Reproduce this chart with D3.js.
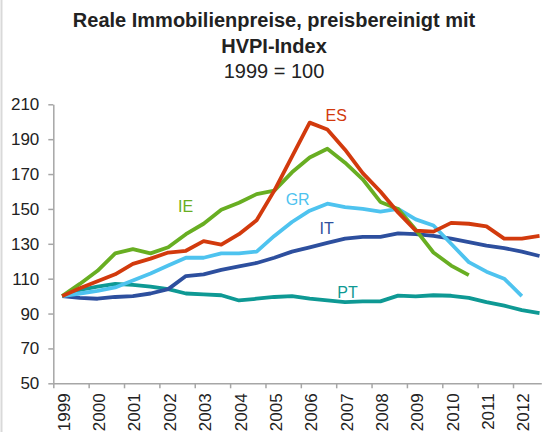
<!DOCTYPE html>
<meta charset="utf-8">
<html>
<head>
    <style>
        body {
            margin: 0;
            background-color: #fff;
        }

        text {
            font-family: "Liberation Sans", Arial, sans-serif;
        }

        .axis path, .axis line {
            stroke: #a6a6a6;
            stroke-width: 1.5px;
        }

        .axis text {
            font-size: 17px;
            fill: #222;
        }

        path.series {
            fill: none;
            stroke-width: 3.8px;
            stroke-linejoin: round;
        }

        text.series-label {
            font-size: 16px;
            text-anchor: middle;
        }
    </style>
    <title>Reale Immobilienpreise</title>
    <script type="text/javascript" src="https://cdn.jsdelivr.net/npm/d3@7"></script>
</head>
<body>
<div id="chart"></div>
<script type="text/javascript">
    const width = 545,
        height = 432,
        years = d3.range(1999, 2013),
        periods = d3.range(1999.25, 2013, 0.5), // half-year midpoints
        yTicks = [50, 70, 90, 110, 130, 150, 170, 190, 210];

    const titleLines = ["Reale Immobilienpreise, preisbereinigt mit", "HVPI-Index", "1999 = 100"];

    // values per half year, 1999 H1 = first entry
    const ES = [100, 104.5, 108.5, 112.5, 118.5, 121.5, 125, 126, 131.5, 129.5, 135.5, 143.5, 160.5, 180,
        199.5, 195.5, 184, 170.5, 160, 148, 137.5, 137, 142, 141.5, 140, 133, 133, 134.5];
    const IE = [100, 107, 114.5, 124.5, 127, 124.5, 128, 135.5, 141.5, 149.5, 153.5, 158.5, 160.5, 171,
        179.5, 184.5, 176.5, 167, 154, 150, 138, 125, 117.5, 112];
    const GR = [100, 101.5, 103, 105, 109, 113, 117.5, 122, 122, 124.5, 124.5, 125.5, 134.5, 142.5,
        149, 153, 151, 150, 148.5, 150, 144, 140.5, 130, 119.5, 114, 110, 100];
    const IT = [100, 99, 98.5, 99.5, 100, 101.5, 104, 111.5, 112.5, 115, 117, 119, 122, 125.5,
        128, 130.5, 133, 134, 134, 136, 135.5, 134.5, 133, 131, 129, 127.5, 125.5, 123];
    const PT = [100, 103.5, 105.5, 107, 106.5, 105.5, 104, 101.5, 101, 100.5, 97.5, 98.5, 99.5, 100,
        98.5, 97.5, 96.5, 97, 97, 100.3, 99.8, 100.5, 100.2, 99, 96.5, 94.5, 92, 90.3];

    const seriesNames = ["PT", "IT", "GR", "IE", "ES"],
        seriesValues = [PT, IT, GR, IE, ES],
        seriesColors = ["#0e9994", "#2d4f9e", "#4ec3ef", "#68ae22", "#d23a0d"],
        labelYears = [2007.32, 2006.73, 2005.91, 2002.74, 2007.0],
        labelValues = [98.9, 135.7, 152.3, 148.2, 200.4];

    const svg = d3.select("#chart").append("svg")
        .attr("width", width)
        .attr("height", height);

    // thin frame line on the left edge
    svg.append("line")
        .attr("x1", 1.5).attr("x2", 1.5)
        .attr("y1", 0).attr("y2", height)
        .attr("stroke", "#d9d9d9")
        .attr("stroke-width", 2);

    svg.selectAll(".title")
        .data(titleLines)
        .enter().append("text")
        .attr("class", "title")
        .attr("x", 274)
        .attr("y", (d, i) => 27 + i * 25.5)
        .style("text-anchor", "middle")
        .style("font-size", "20px")
        .style("font-weight", (d, i) => i < 2 ? "bold" : "normal")
        .style("fill", "#222")
        .text((d) => d);

    const x = d3.scaleLinear()
        .domain([1999, 2012.8])
        .range([53.3, 541.3]);

    const y = d3.scaleLinear()
        .domain([50, 210])
        .range([383.3, 104.3]);

    const xAxis = svg.append("g")
        .attr("class", "axis")
        .attr("transform", "translate(0," + y(50) + ")")
        .call(d3.axisBottom(x).tickValues(years).tickSize(5).tickSizeOuter(0).tickFormat((d) => d));

    xAxis.selectAll("text")
        .attr("transform", "rotate(-90)")
        .attr("x", -10)
        .attr("y", 10)
        .attr("dy", "0.35em")
        .style("text-anchor", "end");

    svg.append("g")
        .attr("class", "axis")
        .attr("transform", "translate(" + x(1999) + ",0)")
        .call(d3.axisLeft(y).tickValues(yTicks).tickSize(5).tickSizeOuter(0).tickPadding(9));

    const line = d3.line()
        .x((d, i) => x(periods[i]))
        .y((d) => y(d));

    svg.selectAll(".series")
        .data(seriesValues)
        .enter().append("path")
        .attr("class", "series")
        .attr("stroke", (d, i) => seriesColors[i])
        .attr("d", line);

    svg.selectAll(".series-label")
        .data(seriesNames)
        .enter().append("text")
        .attr("class", "series-label")
        .attr("x", (d, i) => x(labelYears[i]))
        .attr("y", (d, i) => y(labelValues[i]))
        .style("fill", (d, i) => seriesColors[i])
        .text((d) => d);
</script>
</body>
</html>
